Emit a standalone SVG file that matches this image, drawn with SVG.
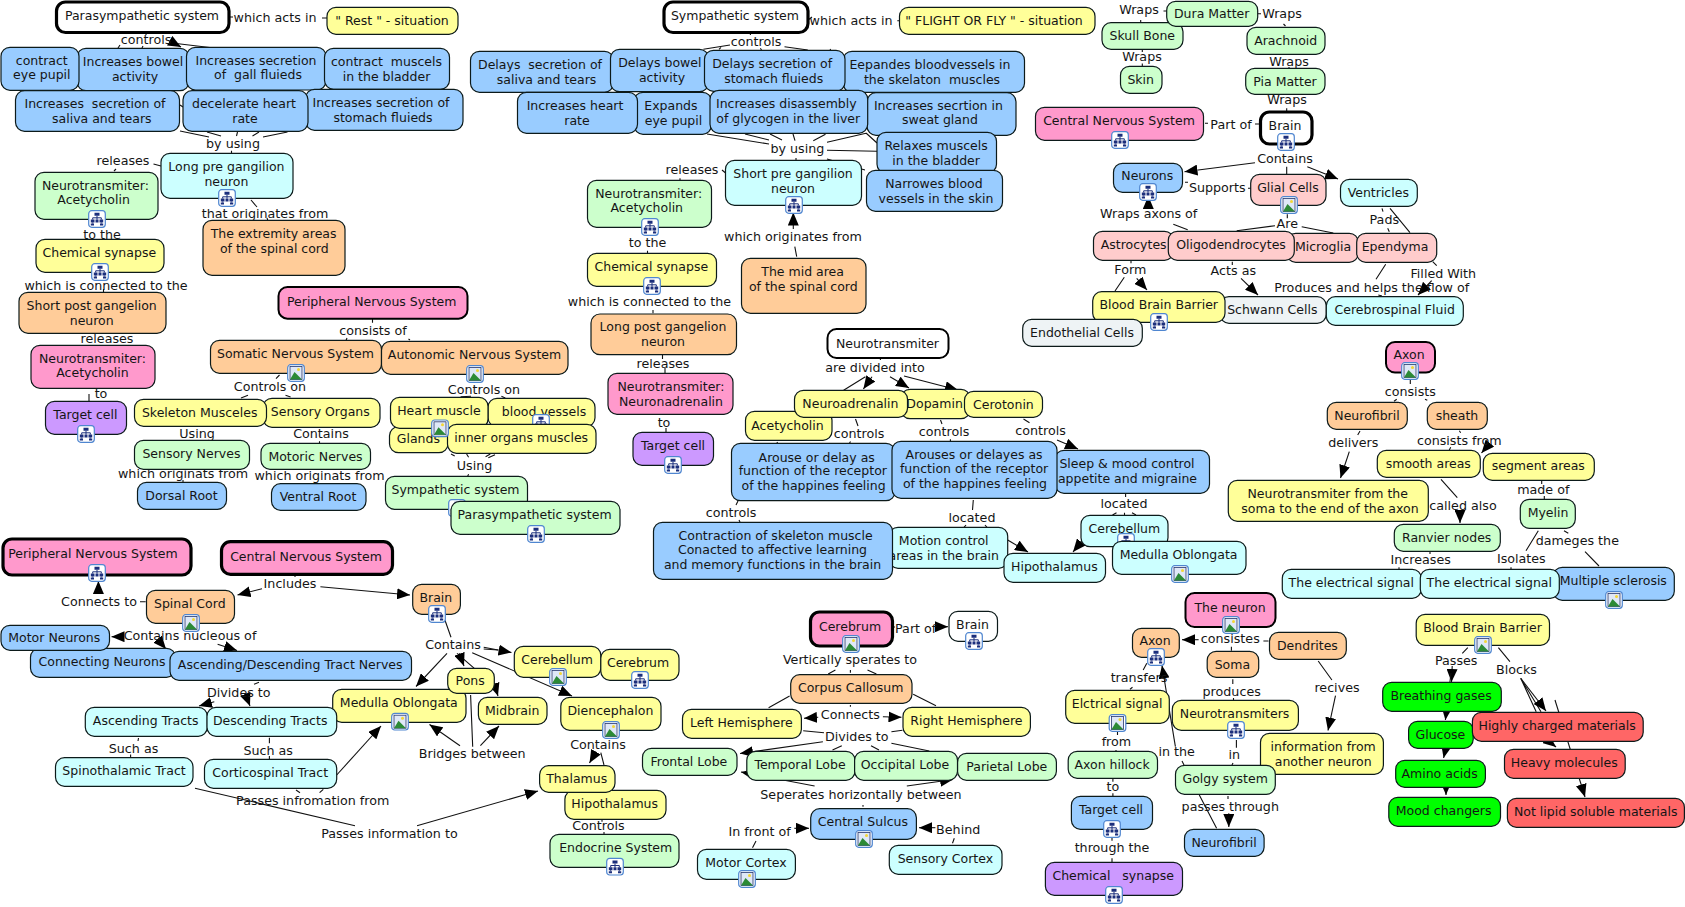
<svg xmlns="http://www.w3.org/2000/svg" width="1685" height="907" viewBox="0 0 1685 907">
<style>
text{font-family:"DejaVu Sans","Liberation Sans",sans-serif;font-size:12.5px;fill:#151515;text-anchor:middle}
#labels text{font-size:12.7px}
.n{stroke:#0c1a1a;stroke-width:1.2}
.b{stroke:#000;stroke-width:3.2}
.m{stroke:#000;stroke-width:2}
.pk{fill:#ff99cc}.bl{fill:#99ccff}.yl{fill:#ffff99}.gr{fill:#ccffcc}.cy{fill:#ccffff}.or{fill:#ffcc99}.sa{fill:#ffcccc}.pu{fill:#cc99ff}.wh{fill:#fff}.gy{fill:#eef3f5}.lg{fill:#00ff00}.rd{fill:#ff6666}
#connectors path{stroke:#111;stroke-width:1.1;fill:none}
#connectors path.a{marker-end:url(#ah)}
</style>
<defs>
<marker id="ah" markerUnits="userSpaceOnUse" markerWidth="13" markerHeight="11" refX="13" refY="5.5" orient="auto"><path d="M0 0L13 5.5L0 11z" fill="#000" stroke="none"/></marker>
<g id="it"><rect x=".7" y=".7" width="16.6" height="16.6" rx="3" fill="#fff" stroke="#4f86d0" stroke-width="1.2"/><path d="M6.500 2.800h5v3h-5zM2.800 9.500h3.700v3H2.800zM7.500 9.500h3v3h-3zM11.500 9.500h3.700v3h-3.700zM2.800 13.500h3.200v2H2.800zM12 13.500h3.200v2H12z" fill="#1c2f7c"/><path d="M9 5.800v3.700M9 7.800H4.700v1.700M9 7.800h4.300v1.700M4.700 12.500v1M13.300 12.500v1" stroke="#1c2f7c" fill="none"/></g>
<g id="ii"><rect x=".7" y=".7" width="16.600" height="16.600" rx="3" fill="#fff" stroke="#4f86d0" stroke-width="1.200"/><rect x="3" y="2.500" width="12" height="13" fill="#dfe8f7" stroke="#26366c" stroke-width=".8"/><circle cx="11.500" cy="5.500" r="1.500" fill="#f4d635"/><path d="M3 15.500L7.500 8L12 12.500L15 15.500z" fill="#2c8a36"/></g>
</defs>
<g id="connectors">
<path d="M146 32.500V35M229 17h4M322 18h6M120 45l-2 3M143 46l-1 2"/>
<path d="M172 43L214 48"/><path class="a" d="M172 42L181 47"/>
<path d="M180 131L209 137M207 132L221 136M237.500 132L236.500 136M259 132L252.500 136M287.500 132L263 137M180 105L183 107M231.500 150.700V153.300M153.500 164L161 166M116 169L114 171M251 200L257 207M267 218L268 221M103.500 272V278M103.500 289V292M89 394V401"/>
<path d="M372.500 318.700V322.700M347 338L346 340.500M408.500 339L410 340M279.500 375L276 378.700M248 395.300L241 398M285.500 395.300L290.600 397M460.600 396.700L471 396.300M501.400 396.300L505.300 398M451 454L454.700 456M466.600 454L468.600 457.300M485.600 456.700L490.300 454M488.300 457.700L495 454.700M468.600 474.300L467.400 476.700M319.500 441.300V443.300M183 480V482.300"/>
<path d="M750.400 32.700V35M730 45L703.400 49.300M721 47.300L719 49.300M760.400 48.300L761.500 50M784.500 46.700L807.800 50M830 49L830.700 50M808 20L812 17M897.300 20.700H900"/>
<path d="M707 134L769 144M745 134L769 140M770 134L782 140M793 134L795 140.700M825.500 134.300L813.300 140.700M866 133.300L827 142.300M866 133L877 143M827 150.300L877 151.300M827 159L865 170M796 158V160.300M722 170L725.600 173M680 178.300V180.300M647.500 250.700V253.300M653 310V313.300M796.700 256.700L794.800 246.700"/>
<path class="a" d="M793.300 229V212.500"/>
<path d="M880.400 358V360M865.400 376.700L843.600 390.300M855.500 419L858 426M850.500 441.500L849.500 443.300M777.600 442L776.800 443.300M940.500 420L942 424M950.400 439.300V441.300M1023.500 419L1029.500 422.700M738 501L736 505M739 520L740 522M973.300 500L972.500 510M966 525L964 527.300M985 525L987 527.300M1125.600 494V497M1116.500 512.700L1112.500 515M1124.500 512.700V515M1132 512.700L1136 515M662.500 355V359M665 368V373M666 428V432.300"/>
<path class="a" d="M872 376.700L863.400 389"/><path class="a" d="M890 376.700L909 388"/><path class="a" d="M904 376L958 390"/><path class="a" d="M1057 440L1078 449"/><path class="a" d="M1007.700 540L1028 552"/><path class="a" d="M1082 541L1073 552"/>
<path d="M1163.500 11h3.500M1140.700 20v2.700M1258 13.700h3M1283.500 24l2 2M1142.300 50V52M1142.300 63.500V66.300M1289 67V68.300M1286.700 108.300V111M1205 123.300H1208M1255 124H1260M1286.700 166.700V174M1185 182.300H1188M1248 188.300H1251M1173.300 224.300L1187.700 229.700M1287.300 214.300V218.300M1275 225.700L1236.700 230.700M1301.700 226.700L1333.300 233M1382 208.300L1383 211.700M1387.700 228.300L1389.300 231.700M1390 208.300L1410 232.700M1131 261V263.300M1124.300 277.300L1115 291M1232.300 261.700V265M1385.700 264.300L1376 279.300M1378.300 295L1382 296M1432.700 261.700L1436.700 265.700"/>
<path class="a" d="M1255 162.700L1184.500 171.700"/><path class="a" d="M1307.300 166.700L1338 179"/><path class="a" d="M1148.300 207V196"/><path class="a" d="M1136.700 278.300L1147 290"/><path class="a" d="M1241 278.300L1258 295"/><path class="a" d="M1431.700 280.700L1418 295"/>
<path d="M1410.300 379.300V384M1396.700 399.300L1394 401.300M1425 399.300L1427.300 400.300M1360 431L1357.700 435M1459.300 430.700L1460.700 432.700M1450.700 447.300L1449.300 450M1441 479.300L1457.300 497.700M1541.700 481V484M1544.300 496V499.300M1538.300 530.700L1526 550.700M1564 530.700L1568.300 533.300M1585 551.700L1599 566M1430 552V554M1399 567.300V569.300M1511 567.300V569.300"/>
<path class="a" d="M1349.300 451.700L1340.500 478"/><path class="a" d="M1490 443L1481.500 453"/><path class="a" d="M1460 511.700V523"/>
<path d="M295 574V577M140 601.700H145.700M259 682.300L254 684.300M138.500 738L138 741M130.600 754.500V757.700M269.400 737.700V743.300M269.400 756V759.300M296 790L300 792.700M319.600 792.700L323.300 789.300M195 788.300L355 825.700M444.900 620L451 637.300M457 653.300L474.300 668.300M470.600 695L472.700 746.700M483.700 649L498 650M600.800 752.700L604 765M602 820V821.700M604 832V834.300"/>
<path class="a" d="M262 588.700L237.500 595"/><path class="a" d="M320.400 586.700L410 595"/><path class="a" d="M98.400 593.300V581"/><path class="a" d="M122.400 636.700H111.500"/><path class="a" d="M161.200 643.300L166 649"/><path class="a" d="M217.600 644.300L237 650.500"/><path class="a" d="M214.300 701.700L199 706"/><path class="a" d="M247 698.300L250 706"/><path class="a" d="M336.700 775L381 726"/><path class="a" d="M417 825.700L538 791"/><path class="a" d="M447 653.300L416 686.500"/><path class="a" d="M459.200 653.300L464 666"/><path class="a" d="M483.700 647.300L511.500 652.500"/><path class="a" d="M472.200 652.700L572 696"/><path class="a" d="M494 683.300L498 696"/><path class="a" d="M460 745.700L429.500 724.500"/><path class="a" d="M480.400 745.700L499 726"/><path class="a" d="M596 751.700L589.500 763"/>
<path d="M893 627H895M835.400 670L828.200 674M850.400 670V672.700M867.500 670L876.400 674M789.600 696L768.600 707.700M913.200 694.300L936 705.700M850.400 705V706.700M803.200 730.700L824 732.700M891.400 731.700L902.500 730.300M841.800 745.700L832.500 750M871 745.700L879 750M891.400 743.300L929.300 751M863 805V806.700M752.500 847.700L756 841M952.500 843.300L954.300 838.300M1146.800 663.300L1143.200 670M1132.500 687.300L1130 689.300M1117.500 732V735M1116 750V751.300M1112.900 779V781.700M1112.900 793.300V796M1112 838V840.700M1112 858.300V862M1182 761L1184 765"/>
<path class="a" d="M937 626.700H948"/><path class="a" d="M818.200 717.300L804 718.300"/><path class="a" d="M882.900 716.700L901.500 717.300"/><path class="a" d="M822.900 741.700L740 753.500"/><path class="a" d="M814.600 786L741 772"/><path class="a" d="M906.800 786L953 779.500"/><path class="a" d="M794.300 828.300H809"/><path class="a" d="M935.400 827.700H919"/><path class="a" d="M1175.400 746.700L1162 665.500"/>
<path d="M1263.400 641H1268.500M1231.400 646.700V650.700M1232.800 679.300V684M1233.500 698V700M1236.400 740V747.700M1233 763L1232 765M1318.200 661L1331.900 680M1228 796V799M1199.300 795L1216.600 828.300M1467.800 647.700L1462.300 653.300M1498.400 647.700L1509.900 661.700M1520.700 678.300L1536.200 711.700M1520.700 678.300L1541 711.700"/>
<path class="a" d="M1198.600 639.700H1182"/><path class="a" d="M1335.500 695.700L1328 730.500"/><path class="a" d="M1228.800 813.300V827"/><path class="a" d="M1452.200 666L1451.500 682"/><path class="a" d="M1451 673L1445.400 720"/><path class="a" d="M1450 730L1443.600 758"/><path class="a" d="M1446 785V795"/><path class="a" d="M1520.700 678.300L1546 711"/><path class="a" d="M1545 738L1556 747"/><path class="a" d="M1555 700L1585 797"/>
</g>
<g id="labels">
<text x="275" y="22">which acts in</text><text x="146" y="44">controls</text><text x="233" y="148">by using</text><text x="123" y="165">releases</text><text x="102" y="239">to the</text><text x="265" y="218">that originates from</text><text x="106" y="290">which is connected to the</text><text x="107" y="343">releases</text><text x="101" y="398">to</text>
<text x="373" y="335">consists of</text><text x="270" y="391">Controls on</text><text x="484" y="394">Controls on</text><text x="197" y="438">Using</text><text x="321" y="438">Contains</text><text x="183" y="478">which originats from</text><text x="319.500" y="480">which originats from</text><text x="474.500" y="470">Using</text>
<text x="851" y="25">which acts in</text><text x="756" y="46">controls</text><text x="797.400" y="153">by using</text><text x="692" y="174">releases</text><text x="647.600" y="247">to the</text><text x="793" y="241">which originates from</text><text x="649.400" y="306">which is connected to the</text><text x="663" y="368">releases</text><text x="664" y="427">to</text>
<text x="875" y="372">are divided into</text><text x="859" y="438">controls</text><text x="944" y="436">controls</text><text x="1040.500" y="435">controls</text><text x="731" y="517">controls</text><text x="972" y="522">located</text><text x="1124" y="508">located</text>
<text x="1139" y="14">Wraps</text><text x="1282" y="18">Wraps</text><text x="1142" y="61">Wraps</text><text x="1289" y="66">Wraps</text><text x="1287" y="104">Wraps</text><text x="1231" y="129">Part of</text><text x="1285" y="163">Contains</text><text x="1217.300" y="192">Supports</text><text x="1148.700" y="218">Wraps axons of</text><text x="1287.300" y="228">Are</text><text x="1384.300" y="224">Pads</text><text x="1130.300" y="274">Form</text><text x="1233.300" y="275">Acts as</text><text x="1443.300" y="278">Filled With</text><text x="1371.700" y="292">Produces and helps the flow of</text>
<text x="1410.300" y="396">consists</text><text x="1353.300" y="447">delivers</text><text x="1459.300" y="445">consists from</text><text x="1543.300" y="494">made of</text><text x="1463" y="510">called also</text><text x="1577.300" y="545">dameges the</text><text x="1420.700" y="564">Increases</text><text x="1521.300" y="563">Isolates</text>
<text x="290" y="588">Includes</text><text x="99" y="606">Connects to</text><text x="190" y="640">Contains nucleous of</text><text x="453" y="649">Contains</text><text x="238.800" y="697">Divides to</text><text x="133.500" y="753">Such as</text><text x="268.200" y="755">Such as</text><text x="472.200" y="758">Bridges between</text><text x="598" y="749">Contains</text><text x="598.400" y="830">Controls</text><text x="312.700" y="805">Passes infromation from</text><text x="389.400" y="838">Passes information to</text>
<text x="915.700" y="633">Part of</text><text x="850" y="664">Vertically sperates to</text><text x="850.400" y="719">Connects</text><text x="856.800" y="741">Divides to</text><text x="861" y="799">Seperates horizontally between</text><text x="759.600" y="836">In front of</text><text x="958.200" y="834">Behind</text><text x="1139" y="682">transfers</text><text x="1116.400" y="746">from</text><text x="1112.900" y="791">to</text><text x="1112" y="852">through the</text>
<text x="1230.300" y="643">consistes</text><text x="1231.700" y="696">produces</text><text x="1337" y="692">recives</text><text x="1176.600" y="756">in the</text><text x="1234.200" y="759">in</text><text x="1230.300" y="811">passes through</text><text x="1456.200" y="665">Passes</text><text x="1516.400" y="674">Blocks</text>
</g>
<g id="n1"><rect class="b wh" x="56.500" y="2" width="172.500" height="30.500" rx="9"/><text x="142" y="20">Parasympathetic system</text></g>
<g id="n2"><rect class="n yl" x="327" y="7.300" width="131" height="27" rx="9"/><text x="392" y="25">" Rest " - situation</text></g>
<g id="n3"><rect class="n bl" x="77" y="48.300" width="112" height="42.400" rx="9"/><text x="133" y="66">Increases bowel</text><text x="135" y="81">activity</text></g>
<g id="n4"><rect class="n bl" x="1" y="47.300" width="78" height="43" rx="9"/><text x="41.800" y="65">contract</text><text x="41.800" y="79">eye pupil</text></g>
<g id="n5"><rect class="n bl" x="186.500" y="47.300" width="139.500" height="42.700" rx="9"/><text x="256" y="65">Increases secretion</text><text x="258" y="79" xml:space="preserve">of  gall fluieds</text></g>
<g id="n6"><rect class="n bl" x="324.500" y="48.300" width="125" height="41" rx="9"/><text x="386.500" y="66" xml:space="preserve">contract  muscels</text><text x="386.500" y="81">in the bladder</text></g>
<g id="n7"><rect class="n bl" x="305.500" y="89.300" width="157.500" height="41" rx="9"/><text x="381" y="107">Increases secretion of</text><text x="383" y="122">stomach fluieds</text></g>
<g id="n8"><rect class="n bl" x="15.500" y="90.700" width="164" height="40.600" rx="9"/><text x="95" y="108" xml:space="preserve">Increases  secretion of</text><text x="101.800" y="123">saliva and tears</text></g>
<g id="n9"><rect class="n bl" x="183" y="90.700" width="125" height="40.600" rx="9"/><text x="244" y="108">decelerate heart</text><text x="245" y="123">rate</text></g>
<g id="n10"><rect class="n cy" x="161" y="153.300" width="132" height="45" rx="9"/><text x="226.400" y="171">Long pre gangilion</text><text x="226.400" y="186">neuron</text><use href="#it" x="218" y="189"/></g>
<g id="n11"><rect class="n gr" x="35" y="172.300" width="123" height="47" rx="9"/><text x="95.400" y="190">Neurotransmiter:</text><text x="93.600" y="204">Acetycholin</text><use href="#it" x="88" y="210"/></g>
<g id="n12"><rect class="n yl" x="36" y="239.300" width="128" height="33" rx="9"/><text x="99.300" y="257">Chemical synapse</text><use href="#it" x="91" y="263"/></g>
<g id="n13"><rect class="n or" x="203" y="220.300" width="142" height="55" rx="9"/><text x="273.600" y="238">The extremity areas</text><text x="274.300" y="253">of the spinal cord</text></g>
<g id="n14"><rect class="n or" x="19" y="292.300" width="147" height="41" rx="9"/><text x="91.700" y="310">Short post gangelion</text><text x="91.700" y="325">neuron</text></g>
<g id="n15"><rect class="n pk" x="31" y="345.300" width="124" height="43" rx="9"/><text x="92.500" y="363">Neurotransmiter:</text><text x="92.500" y="377">Acetycholin</text></g>
<g id="n16"><rect class="n pu" x="45.500" y="401.300" width="81" height="33" rx="9"/><text x="85.400" y="419">Target cell</text><use href="#it" x="77" y="425"/></g>
<g id="n17"><rect class="m pk" x="278.500" y="287" width="189" height="31.700" rx="9"/><text x="371.700" y="306">Peripheral Nervous System</text></g>
<g id="n18"><rect class="n or" x="210.500" y="340.300" width="171" height="33" rx="9"/><text x="295.400" y="358">Somatic Nervous System</text><use href="#ii" x="287" y="364"/></g>
<g id="n19"><rect class="n or" x="381.500" y="341.300" width="186.500" height="33" rx="9"/><text x="474.500" y="359">Autonomic Nervous System</text><use href="#ii" x="466" y="365"/></g>
<g id="n20"><rect class="n yl" x="263" y="398.300" width="117" height="29" rx="9"/><text x="320.300" y="416">Sensory Organs</text></g>
<g id="n21"><rect class="n yl" x="134.500" y="399.300" width="132" height="27" rx="9"/><text x="199.700" y="417">Skeleton Musceles</text></g>
<g id="n22"><rect class="n yl" x="488" y="398.300" width="107" height="28.400" rx="9"/><text x="544" y="416">blood vessels</text><use href="#it" x="532" y="414"/></g>
<g id="n23"><rect class="n yl" x="389.500" y="426.700" width="58.500" height="26" rx="9"/><text x="418.400" y="443">Glands</text></g>
<g id="n24"><rect class="n yl" x="390.500" y="397.300" width="97.500" height="31" rx="9"/><text x="438.900" y="415">Heart muscle</text></g>
<g id="n25"><rect class="n yl" x="447.500" y="424.300" width="148.500" height="29" rx="9"/><text x="521.200" y="442">inner organs muscles</text></g>
<use href="#ii" x="431" y="419.300"/>
<g id="n26"><rect class="n gr" x="134.500" y="440.300" width="115" height="29" rx="9"/><text x="191.400" y="458">Sensory Nerves</text></g>
<g id="n27"><rect class="n gr" x="261" y="443.300" width="109.500" height="26" rx="9"/><text x="315.500" y="461">Motoric Nerves</text></g>
<g id="n28"><rect class="n bl" x="137.500" y="482.300" width="89" height="27" rx="9"/><text x="181.500" y="500">Dorsal Root</text></g>
<g id="n29"><rect class="n bl" x="271.500" y="483.700" width="94.500" height="26.600" rx="9"/><text x="318" y="501">Ventral Root</text></g>
<g id="n30"><rect class="n gr" x="385.500" y="476.300" width="142" height="33" rx="9"/><text x="455.500" y="494">Sympathetic system</text><use href="#it" x="448" y="499"/></g>
<g id="n31"><rect class="n gr" x="451" y="501.300" width="169" height="33" rx="9"/><text x="534.600" y="519">Parasympathetic system</text><use href="#it" x="527" y="525"/></g>
<g id="n32"><rect class="b pk" x="3" y="539" width="188" height="36" rx="9"/><text x="92.900" y="558">Peripheral Nervous System</text><use href="#it" x="88" y="564"/></g>
<g id="n33"><rect class="b pk" x="221.500" y="541.700" width="171" height="32.600" rx="9"/><text x="306" y="561">Central Nervous System</text></g>
<g id="n34"><rect class="b wh" x="664" y="2" width="144" height="30.500" rx="9"/><text x="734.900" y="20">Sympathetic system</text></g>
<g id="n35"><rect class="n yl" x="899.500" y="7.300" width="195.500" height="27" rx="9"/><text x="994" y="25">" FLIGHT OR FLY " - situation</text></g>
<g id="n36"><rect class="n bl" x="470.500" y="51.300" width="143" height="41" rx="9"/><text x="540" y="69" xml:space="preserve">Delays  secretion of</text><text x="546.600" y="84">saliva and tears</text></g>
<g id="n37"><rect class="n bl" x="843" y="51.300" width="181.500" height="41" rx="9"/><text x="929.900" y="69">Eepandes bloodvessels in</text><text x="932" y="84" xml:space="preserve">the skelaton  muscles</text></g>
<g id="n38"><rect class="n bl" x="610.500" y="49.300" width="98" height="42.400" rx="9"/><text x="659.800" y="67">Delays bowel</text><text x="662" y="82">activity</text></g>
<g id="n39"><rect class="n bl" x="704.500" y="50.300" width="140.500" height="41" rx="9"/><text x="772.200" y="68">Delays secretion of</text><text x="773.700" y="83">stomach fluieds</text></g>
<g id="n40"><rect class="n bl" x="634" y="92.300" width="77.500" height="42" rx="9"/><text x="670.900" y="110">Expands</text><text x="673.500" y="125">eye pupil</text></g>
<g id="n41"><rect class="n bl" x="517.500" y="92.300" width="120" height="41" rx="9"/><text x="575" y="110">Increases heart</text><text x="577" y="125">rate</text></g>
<g id="n42"><rect class="n bl" x="867" y="92.700" width="149" height="42.600" rx="9"/><text x="938.400" y="110">Increases secrtion in</text><text x="939.900" y="124">sweat gland</text></g>
<g id="n43"><rect class="n bl" x="710" y="90.300" width="157.700" height="43" rx="9"/><text x="786.300" y="108">Increases disassembly</text><text x="788.200" y="123">of glycogen in the liver</text></g>
<g id="n44"><rect class="n bl" x="877" y="132.300" width="119.500" height="41" rx="9"/><text x="936.100" y="150">Relaxes muscels</text><text x="936.100" y="165">in the bladder</text></g>
<g id="n45"><rect class="n bl" x="866.500" y="170.300" width="136" height="41" rx="9"/><text x="933.900" y="188">Narrowes blood</text><text x="936" y="203">vessels in the skin</text></g>
<g id="n46"><rect class="n cy" x="725.500" y="160.300" width="136" height="45" rx="9"/><text x="793" y="178">Short pre gangilion</text><text x="793" y="193">neuron</text><use href="#it" x="785" y="196"/></g>
<g id="n47"><rect class="n gr" x="587.500" y="180.300" width="124" height="47" rx="9"/><text x="648.700" y="198">Neurotransmiter:</text><text x="646.800" y="212">Acetycholin</text><use href="#it" x="641" y="218"/></g>
<g id="n48"><rect class="n yl" x="587.500" y="253.300" width="129" height="33" rx="9"/><text x="651.300" y="271">Chemical synapse</text><use href="#it" x="643" y="277"/></g>
<g id="n49"><rect class="n or" x="741.500" y="258.300" width="124.500" height="55" rx="9"/><text x="802.600" y="276">The mid area</text><text x="803.300" y="291">of the spinal cord</text></g>
<g id="n50"><rect class="n or" x="591" y="314" width="145.500" height="40.700" rx="9"/><text x="663" y="331">Long post gangelion</text><text x="663" y="346">neuron</text></g>
<g id="n51"><rect class="n pk" x="608" y="373.300" width="125" height="41" rx="9"/><text x="671" y="391">Neurotransmiter:</text><text x="671" y="406">Neuronadrenalin</text></g>
<g id="n52"><rect class="n pu" x="633" y="432.300" width="80.500" height="33" rx="9"/><text x="673" y="450">Target cell</text><use href="#it" x="664" y="456"/></g>
<g id="n53"><rect class="m wh" x="827.500" y="329" width="121" height="29" rx="9"/><text x="887.500" y="348">Neurotransmiter</text></g>
<g id="n54"><rect class="n yl" x="901" y="389.300" width="69" height="29.400" rx="9"/><text x="934.600" y="407.500">Dopamin</text></g>
<g id="n55"><rect class="n yl" x="745.500" y="411.300" width="86.500" height="29" rx="9"/><text x="787.500" y="429.500">Acetycholin</text></g>
<g id="n56"><rect class="n yl" x="794.500" y="390.300" width="113" height="27" rx="9"/><text x="850.400" y="408">Neuroadrenalin</text></g>
<g id="n57"><rect class="n yl" x="964.500" y="391.300" width="78" height="26" rx="9"/><text x="1003.400" y="409">Cerotonin</text></g>
<g id="n58"><rect class="n bl" x="1055" y="450.300" width="154.500" height="43" rx="9"/><text x="1127" y="468">Sleep &amp; mood control</text><text x="1127.500" y="483">appetite and migraine</text></g>
<g id="n59"><rect class="n bl" x="731.500" y="443.300" width="163.500" height="57.400" rx="9"/><text x="816.700" y="461.500">Arouse or delay as</text><text x="812.800" y="475">function of the receptor</text><text x="813.600" y="490">of the happines feeling</text></g>
<g id="n60"><rect class="n bl" x="892" y="441.300" width="165" height="57" rx="9"/><text x="974.100" y="459">Arouses or delayes as</text><text x="974.100" y="473">function of the receptor</text><text x="975" y="488">of the happines feeling</text></g>
<g id="n61"><rect class="n cy" x="889" y="527.300" width="118.700" height="41" rx="9"/><text x="943.700" y="545">Motion control</text><text x="943.700" y="560">areas in the brain</text></g>
<g id="n62"><rect class="n bl" x="653.500" y="522.300" width="239" height="57" rx="9"/><text x="775.600" y="540">Contraction of skeleton muscle</text><text x="772.500" y="554">Conacted to affective learning</text><text x="772.500" y="569">and memory functions in the brain</text></g>
<g id="n63"><rect class="n cy" x="1081" y="515.300" width="87" height="31.400" rx="9"/><text x="1124.400" y="533">Cerebellum</text><use href="#it" x="1117" y="533"/></g>
<g id="n64"><rect class="n cy" x="1112.500" y="541.300" width="133.500" height="33" rx="9"/><text x="1178.600" y="559">Medulla Oblongata</text><use href="#ii" x="1171" y="565"/></g>
<g id="n65"><rect class="n cy" x="1004" y="553.300" width="101.500" height="29" rx="9"/><text x="1054.400" y="571">Hipothalamus</text></g>
<g id="n66"><rect class="n gr" x="1102" y="22.700" width="81" height="26.600" rx="9"/><text x="1142.300" y="40">Skull Bone</text></g>
<g id="n67"><rect class="n gr" x="1166.700" y="1.300" width="91" height="25" rx="9"/><text x="1211.700" y="18">Dura Matter</text></g>
<g id="n68"><rect class="n gr" x="1120.500" y="66.300" width="41.500" height="27" rx="9"/><text x="1140.700" y="84">Skin</text></g>
<g id="n69"><rect class="n gr" x="1247" y="27.300" width="78" height="27" rx="9"/><text x="1285.700" y="45">Arachnoid</text></g>
<g id="n70"><rect class="n gr" x="1245.700" y="68.300" width="79.300" height="26" rx="9"/><text x="1285" y="86">Pia Matter</text></g>
<g id="n71"><rect class="n pk" x="1035.500" y="107.300" width="168" height="33" rx="9"/><text x="1119" y="125">Central Nervous System</text><use href="#it" x="1111" y="131"/></g>
<g id="n72"><rect class="b wh" x="1260.500" y="112" width="51.500" height="32" rx="9"/><text x="1285" y="130">Brain</text><use href="#it" x="1277" y="133"/></g>
<g id="n73"><rect class="n bl" x="1113.500" y="163.300" width="69" height="29" rx="9"/><text x="1147.300" y="180">Neurons</text><use href="#it" x="1139" y="183"/></g>
<g id="n74"><rect class="n sa" x="1250.700" y="174.300" width="75.300" height="31" rx="9"/><text x="1288" y="192">Glial Cells</text><use href="#ii" x="1280" y="196"/></g>
<g id="n75"><rect class="n cy" x="1340.500" y="179.300" width="76.800" height="27" rx="9"/><text x="1378.300" y="197">Ventricles</text></g>
<g id="n76"><rect class="n sa" x="1093.500" y="231.300" width="80" height="29" rx="9"/><text x="1133.700" y="249">Astrocytes</text></g>
<g id="n77"><rect class="n sa" x="1286.700" y="233.300" width="71.600" height="29" rx="9"/><text x="1323" y="251">Microglia</text></g>
<g id="n78"><rect class="n sa" x="1168.300" y="231.300" width="126" height="29" rx="9"/><text x="1231" y="249">Oligodendrocytes</text></g>
<g id="n79"><rect class="n sa" x="1356.700" y="233.300" width="80" height="29" rx="9"/><text x="1395" y="251">Ependyma</text></g>
<g id="n80"><rect class="n gy" x="1220" y="296.700" width="106.300" height="26.600" rx="9"/><text x="1272.300" y="314">Schwann Cells</text></g>
<g id="n81"><rect class="n cy" x="1326.300" y="296.700" width="137" height="28.600" rx="9"/><text x="1394.700" y="314">Cerebrospinal Fluid</text></g>
<g id="n82"><rect class="n yl" x="1092.700" y="291.700" width="132.300" height="30.600" rx="9"/><text x="1158.700" y="309">Blood Brain Barrier</text></g>
<g id="n83"><rect class="n gy" x="1022.700" y="319.300" width="119.600" height="27" rx="9"/><text x="1082" y="337">Endothelial Cells</text></g>
<use href="#it" x="1150" y="313"/>
<g id="n84"><rect class="m pk" x="1386" y="342" width="49" height="30.500" rx="9"/><text x="1409" y="359">Axon</text><use href="#ii" x="1401" y="362"/></g>
<g id="n85"><rect class="n or" x="1327.300" y="402.300" width="80" height="27" rx="9"/><text x="1367" y="420">Neurofibril</text></g>
<g id="n86"><rect class="n or" x="1427.300" y="402.300" width="60" height="27" rx="9"/><text x="1457" y="420">sheath</text></g>
<g id="n87"><rect class="n yl" x="1377.300" y="450.300" width="103" height="27" rx="9"/><text x="1428.300" y="468">smooth areas</text></g>
<g id="n88"><rect class="n yl" x="1483.300" y="453.300" width="111" height="27" rx="9"/><text x="1538.300" y="470">segment areas</text></g>
<g id="n89"><rect class="n yl" x="1228.300" y="480.300" width="200" height="41" rx="9"/><text x="1327.700" y="498">Neurotransmiter from the</text><text x="1330" y="513">soma to the end of the axon</text></g>
<g id="n90"><rect class="n gr" x="1520.300" y="499.300" width="55" height="29" rx="9"/><text x="1548" y="517">Myelin</text></g>
<g id="n91"><rect class="n gr" x="1394.300" y="524.300" width="106" height="27" rx="9"/><text x="1446.700" y="542">Ranvier nodes</text></g>
<g id="n92"><rect class="n bl" x="1553.300" y="567.300" width="121" height="33" rx="9"/><text x="1613.300" y="585">Multiple sclerosis</text><use href="#ii" x="1605" y="591"/></g>
<g id="n93"><rect class="n cy" x="1282.300" y="569.300" width="139" height="29" rx="9"/><text x="1351.300" y="587">The electrical signal</text></g>
<g id="n94"><rect class="n cy" x="1420.300" y="569.300" width="139" height="29" rx="9"/><text x="1489.300" y="587">The electrical signal</text></g>
<g id="n95"><rect class="n or" x="146.500" y="590.300" width="88" height="33" rx="9"/><text x="189.800" y="608">Spinal Cord</text><use href="#ii" x="182" y="614"/></g>
<g id="n96"><rect class="n or" x="412.700" y="584.300" width="47.700" height="30" rx="9"/><text x="435.900" y="602">Brain</text><use href="#it" x="428" y="605"/></g>
<g id="n97"><rect class="n bl" x="30.500" y="648.300" width="145" height="29" rx="9"/><text x="102" y="666">Connecting Neurons</text></g>
<g id="n98"><rect class="n bl" x="1" y="625.300" width="108.500" height="25" rx="9"/><text x="54.300" y="642">Motor Neurons</text></g>
<g id="n99"><rect class="n bl" x="170" y="651.300" width="241.500" height="29" rx="9"/><text x="290.200" y="669">Ascending/Descending Tract Nerves</text></g>
<g id="n100"><rect class="n yl" x="514.300" y="646.300" width="86.500" height="31" rx="9"/><text x="557.100" y="664">Cerebellum</text><use href="#ii" x="549" y="668"/></g>
<g id="n101"><rect class="n yl" x="600.800" y="649.300" width="78.200" height="31" rx="9"/><text x="638" y="667">Cerebrum</text><use href="#it" x="631" y="671"/></g>
<g id="n102"><rect class="n yl" x="332.700" y="689.300" width="133.300" height="33" rx="9"/><text x="398.800" y="707">Medulla Oblongata</text><use href="#ii" x="391" y="712.700"/></g>
<g id="n103"><rect class="n yl" x="447.700" y="668.300" width="46.600" height="25" rx="9"/><text x="470.200" y="685">Pons</text></g>
<g id="n104"><rect class="n yl" x="478.400" y="697.300" width="68.600" height="27" rx="9"/><text x="512.200" y="715">Midbrain</text></g>
<g id="n105"><rect class="n yl" x="560.800" y="697.300" width="100.200" height="33" rx="9"/><text x="610.400" y="715">Diencephalon</text><use href="#ii" x="602" y="721"/></g>
<g id="n106"><rect class="n cy" x="85.300" y="707.300" width="122" height="29" rx="9"/><text x="145.700" y="725">Ascending Tracts</text></g>
<g id="n107"><rect class="n cy" x="207" y="707.300" width="129.700" height="29" rx="9"/><text x="270.200" y="725">Descending Tracts</text></g>
<g id="n108"><rect class="n cy" x="55.500" y="757.700" width="137.500" height="28.600" rx="9"/><text x="124" y="775">Spinothalamic Tract</text></g>
<g id="n109"><rect class="n cy" x="204.500" y="759.300" width="132.200" height="29" rx="9"/><text x="270.200" y="777">Corticospinal Tract</text></g>
<g id="n110"><rect class="n yl" x="564.900" y="790.300" width="101.100" height="29" rx="9"/><text x="614.700" y="808">Hipothalamus</text></g>
<g id="n111"><rect class="n yl" x="539.600" y="765.700" width="75.400" height="26.600" rx="9"/><text x="576.700" y="783">Thalamus</text></g>
<g id="n112"><rect class="n gr" x="550" y="834.300" width="129" height="33" rx="9"/><text x="615.700" y="852">Endocrine System</text><use href="#it" x="606" y="857.700"/></g>
<g id="n113"><rect class="b pk" x="810.500" y="612" width="82" height="34" rx="9"/><text x="850" y="631">Cerebrum</text><use href="#ii" x="842" y="635"/></g>
<g id="n114"><rect class="n wh" x="949" y="611.300" width="48.500" height="30" rx="9"/><text x="972.500" y="629">Brain</text><use href="#it" x="965" y="632"/></g>
<g id="n115"><rect class="n or" x="790.700" y="674.700" width="121.300" height="28.600" rx="9"/><text x="850.700" y="692">Corpus Callosum</text></g>
<g id="n116"><rect class="n yl" x="682.500" y="709.300" width="118.900" height="29" rx="9"/><text x="741.400" y="727">Left Hemisphere</text></g>
<g id="n117"><rect class="n yl" x="903" y="707.300" width="127.400" height="29" rx="9"/><text x="966.400" y="725">Right Hemisphere</text></g>
<g id="n118"><rect class="n gr" x="642.500" y="748.300" width="94.500" height="27" rx="9"/><text x="688.900" y="766">Frontal Lobe</text></g>
<g id="n119"><rect class="n gr" x="957.500" y="753.300" width="98.900" height="27" rx="9"/><text x="1006.800" y="771">Parietal Lobe</text></g>
<g id="n120"><rect class="n gr" x="746.800" y="751.300" width="108.200" height="29" rx="9"/><text x="800" y="769">Temporal Lobe</text></g>
<g id="n121"><rect class="n gr" x="854.600" y="751.300" width="102.900" height="29" rx="9"/><text x="905" y="769">Occipital Lobe</text></g>
<g id="n122"><rect class="n bl" x="810.700" y="808.700" width="105.700" height="30.600" rx="9"/><text x="862.900" y="826">Central Sulcus</text><use href="#ii" x="855" y="830"/></g>
<g id="n123"><rect class="n cy" x="697.500" y="849.300" width="97.900" height="30" rx="9"/><text x="746" y="867">Motor Cortex</text><use href="#ii" x="738" y="870"/></g>
<g id="n124"><rect class="n cy" x="889.300" y="845.300" width="112.700" height="29" rx="9"/><text x="945.400" y="863">Sensory Cortex</text></g>
<g id="n125"><rect class="m pk" x="1185.500" y="593" width="90" height="34" rx="9"/><text x="1230" y="612">The neuron</text><use href="#ii" x="1222" y="616"/></g>
<g id="n126"><rect class="n or" x="1132.500" y="628.300" width="46.800" height="29" rx="9"/><text x="1155" y="645">Axon</text><use href="#it" x="1147" y="648"/></g>
<g id="n127"><rect class="n or" x="1207.200" y="651.300" width="51.500" height="26" rx="9"/><text x="1232.400" y="669">Soma</text></g>
<g id="n128"><rect class="n or" x="1269.500" y="632.300" width="76.800" height="27" rx="9"/><text x="1307.400" y="650">Dendrites</text></g>
<g id="n129"><rect class="n yl" x="1065.700" y="690.300" width="103.600" height="33" rx="9"/><text x="1117.100" y="708">Elctrical signal</text><use href="#ii" x="1108.500" y="714"/></g>
<g id="n130"><rect class="n yl" x="1172.300" y="700.300" width="126.100" height="30" rx="9"/><text x="1234.600" y="718">Neurotransmiters</text><use href="#it" x="1227" y="721"/></g>
<g id="n131"><rect class="n yl" x="1260.500" y="733.300" width="122.900" height="41" rx="9"/><text x="1323.200" y="751">information from</text><text x="1323.200" y="766">another neuron</text></g>
<g id="n132"><rect class="n gr" x="1175.500" y="765.300" width="99.800" height="29" rx="9"/><text x="1225.200" y="783">Golgy system</text></g>
<g id="n133"><rect class="n bl" x="1184.500" y="829.300" width="79.600" height="27" rx="9"/><text x="1224.100" y="847">Neurofibril</text></g>
<g id="n134"><rect class="n gr" x="1068.200" y="751.300" width="89.300" height="27" rx="9"/><text x="1112.100" y="769">Axon hillock</text></g>
<g id="n135"><rect class="n bl" x="1071.400" y="796.300" width="81.100" height="33" rx="9"/><text x="1111" y="814">Target cell</text><use href="#it" x="1103" y="820"/></g>
<g id="n136"><rect class="n pu" x="1045.400" y="862.300" width="137.100" height="33" rx="9"/><text x="1113.200" y="880" xml:space="preserve">Chemical   synapse</text><use href="#it" x="1105" y="886"/></g>
<g id="n137"><rect class="n yl" x="1416.200" y="614.300" width="133.300" height="31" rx="9"/><text x="1482.500" y="632">Blood Brain Barrier</text><use href="#ii" x="1474" y="636"/></g>
<g id="n138"><rect class="n lg" x="1382.700" y="682.300" width="118.600" height="29" rx="9"/><text x="1441.100" y="700">Breathing gases</text></g>
<g id="n139"><rect class="n lg" x="1408.600" y="721.300" width="64.600" height="27" rx="9"/><text x="1440.400" y="739">Glucose</text></g>
<g id="n140"><rect class="n lg" x="1395.700" y="760.300" width="89.700" height="27" rx="9"/><text x="1439.600" y="778">Amino acids</text></g>
<g id="n141"><rect class="n lg" x="1388.800" y="797.300" width="111.700" height="29" rx="9"/><text x="1443.600" y="815">Mood changers</text></g>
<g id="n142"><rect class="n rd" x="1472.400" y="712.300" width="170.800" height="29" rx="9"/><text x="1557.100" y="730">Highly charged materials</text></g>
<g id="n143"><rect class="n rd" x="1504.500" y="749.300" width="120.700" height="29" rx="9"/><text x="1564.300" y="767">Heavy molecules</text></g>
<g id="n144"><rect class="n rd" x="1507.400" y="798.300" width="177" height="29" rx="9"/><text x="1595.700" y="816">Not lipid soluble materials</text></g>
</svg>
